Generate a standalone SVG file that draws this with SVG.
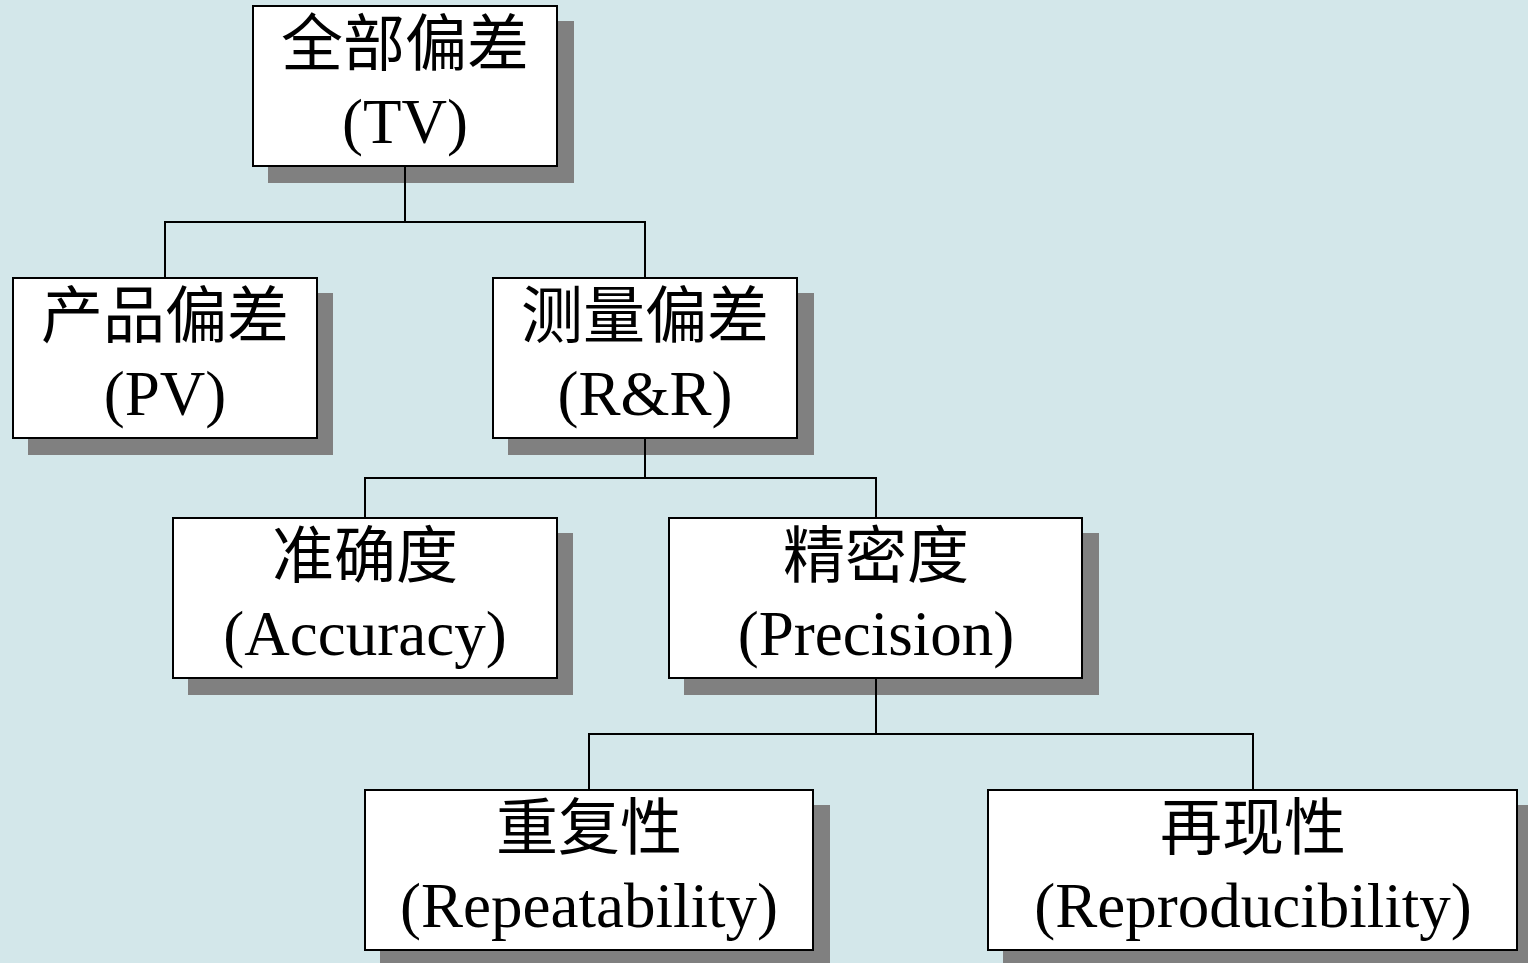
<svg xmlns="http://www.w3.org/2000/svg" width="1528" height="963" viewBox="0 0 1528 963">
<style>
.shadow{fill:#808080}
.box{fill:#ffffff;stroke:#000000;stroke-width:2}
.conn{fill:none;stroke:#000000;stroke-width:2}
text{font-family:"Liberation Serif","Noto Sans CJK SC",serif;font-size:62px;fill:#000000;text-anchor:middle}
text.en{font-size:63px}
</style>
<rect x="0" y="0" width="1528" height="963" fill="#D3E7EA"/>
<g id="node-tv">
<rect class="shadow" x="268" y="21" width="306" height="162"/>
<rect class="box" x="253" y="6" width="304" height="160"/>
<text x="405" y="66">全部偏差</text>
<text class="en" x="405" y="143">(TV)</text>
</g>
<g id="node-pv">
<rect class="shadow" x="28" y="293" width="305" height="162"/>
<rect class="box" x="13" y="278" width="304" height="160"/>
<text x="165" y="338">产品偏差</text>
<text class="en" x="165" y="415">(PV)</text>
</g>
<g id="node-rr">
<rect class="shadow" x="508" y="293" width="306" height="162"/>
<rect class="box" x="493" y="278" width="304" height="160"/>
<text x="645" y="338">测量偏差</text>
<text class="en" x="645" y="415">(R&amp;R)</text>
</g>
<g id="node-accuracy">
<rect class="shadow" x="188" y="533" width="385" height="162"/>
<rect class="box" x="173" y="518" width="384" height="160"/>
<text x="365" y="578">准确度</text>
<text class="en" x="365" y="655">(Accuracy)</text>
</g>
<g id="node-precision">
<rect class="shadow" x="684" y="533" width="415" height="162"/>
<rect class="box" x="669" y="518" width="413" height="160"/>
<text x="876" y="578">精密度</text>
<text class="en" x="876" y="655">(Precision)</text>
</g>
<g id="node-repeatability">
<rect class="shadow" x="380" y="805" width="450" height="162"/>
<rect class="box" x="365" y="790" width="448" height="160"/>
<text x="589" y="850">重复性</text>
<text class="en" x="589" y="927">(Repeatability)</text>
</g>
<g id="node-reproducibility">
<rect class="shadow" x="1003" y="805" width="530" height="162"/>
<rect class="box" x="988" y="790" width="529" height="160"/>
<text x="1253" y="850">再现性</text>
<text class="en" x="1253" y="927">(Reproducibility)</text>
</g>
<g id="connectors">
<path class="conn" d="M405 167V222M165 277V222H645V277"/>
<path class="conn" d="M645 439V478M365 517V478H876V517"/>
<path class="conn" d="M876 679V734M589 789V734H1253V789"/>
</g>
</svg>
